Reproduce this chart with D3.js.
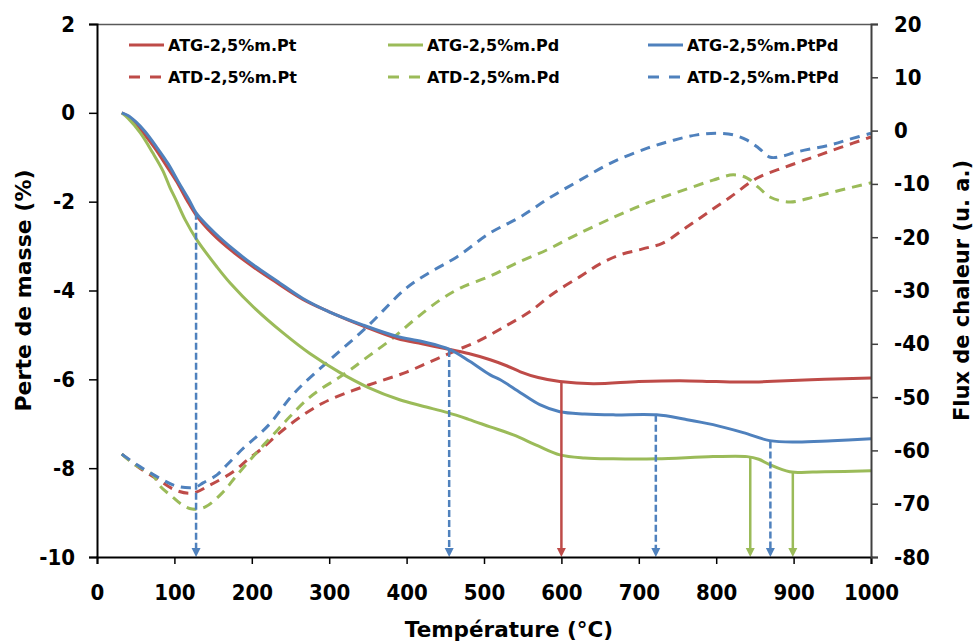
<!DOCTYPE html>
<html><head><meta charset="utf-8">
<script src="https://cdn.jsdelivr.net/npm/d3@7"></script>
<style>
body{margin:0;background:#fff;}
text{font-family:"DejaVu Sans",Verdana,sans-serif;font-weight:bold;fill:#000;}
</style></head>
<body>
<svg id="c" width="977" height="641"></svg>
<script>
// ---- data ----
const xTicks = [0,100,200,300,400,500,600,700,800,900,1000];
const yLeftTicks = [2,0,-2,-4,-6,-8,-10];
const yRightTicks = [20,10,0,-10,-20,-30,-40,-50,-60,-70,-80];

const atgPt = [[32,0],[40,-0.08],[50,-0.25],[62,-0.5],[75,-0.8],[90,-1.2],[103,-1.55],[116,-1.96],[128,-2.3],[149,-2.72],[175,-3.12],[202,-3.47],[230,-3.8],[266,-4.2],[300,-4.48],[344,-4.8],[388,-5.08],[420,-5.2],[456,-5.33],[480,-5.42],[508,-5.56],[530,-5.7],[547,-5.83],[570,-5.96],[598,-6.05],[641,-6.1],[700,-6.05],[753,-6.03],[800,-6.05],[840,-6.06],[882,-6.04],[940,-6.0],[1000,-5.97]];
const atgPd = [[32,0],[40,-0.12],[56,-0.45],[72,-0.9],[85,-1.3],[94,-1.67],[102,-1.96],[114,-2.41],[129,-2.86],[155,-3.47],[172,-3.83],[205,-4.42],[240,-4.95],[275,-5.42],[314,-5.85],[350,-6.18],[391,-6.46],[420,-6.6],[453,-6.75],[480,-6.9],[508,-7.07],[538,-7.25],[570,-7.5],[598,-7.70],[630,-7.77],[667,-7.79],[723,-7.79],[796,-7.74],[840,-7.74],[855,-7.8],[869,-7.92],[895,-8.08],[940,-8.08],[1000,-8.06]];
const atgPtPd = [[32,0],[40,-0.06],[50,-0.2],[62,-0.42],[77,-0.77],[92,-1.15],[105,-1.55],[119,-1.96],[128,-2.25],[152,-2.70],[178,-3.1],[204,-3.45],[232,-3.78],[266,-4.18],[300,-4.48],[344,-4.78],[387,-5.03],[420,-5.15],[456,-5.33],[482,-5.6],[508,-5.9],[521,-6.01],[547,-6.3],[572,-6.57],[598,-6.73],[630,-6.78],[667,-6.80],[723,-6.80],[760,-6.9],[796,-7.02],[835,-7.2],[869,-7.38],[904,-7.41],[950,-7.38],[1000,-7.34]];

const atdPt = [[32,-60.7],[55,-63.3],[79,-65.5],[102,-67.5],[124,-68.0],[146,-66.5],[176,-64.0],[194,-61.8],[211,-59.9],[236,-56.7],[262,-53.8],[292,-51.1],[330,-48.8],[366,-47.0],[400,-45.3],[430,-43.4],[460,-41.5],[495,-39.3],[530,-36.5],[559,-34.0],[590,-30.5],[624,-27.4],[650,-25.0],[676,-23.3],[705,-22.2],[731,-21.1],[762,-18.1],[788,-15.5],[818,-12.5],[853,-8.9],[890,-6.8],[925,-5.0],[960,-3.2],[1000,-1.2]];
const atdPd = [[32,-60.7],[50,-62.8],[72,-64.6],[81,-66.6],[98,-68.8],[110,-70.2],[123,-71.0],[140,-70.6],[163,-67.8],[181,-64.6],[207,-60.3],[233,-56.2],[249,-53.7],[271,-50.5],[290,-48.4],[310,-46.6],[327,-44.9],[350,-42.4],[379,-39.3],[410,-35.5],[443,-31.8],[470,-29.5],[508,-27.3],[540,-25.0],[581,-22.4],[620,-19.5],[667,-16.3],[700,-14.2],[731,-12.5],[765,-10.8],[796,-9.3],[822,-8.3],[840,-8.9],[855,-10.7],[870,-12.5],[895,-13.4],[925,-12.5],[960,-11.2],[1000,-9.8]];
const atdPtPd = [[32,-60.7],[55,-63.0],[81,-65.2],[103,-66.7],[127,-66.9],[137,-66.1],[155,-64.6],[168,-62.7],[189,-59.6],[207,-57.3],[224,-54.9],[249,-50.2],[266,-47.6],[301,-43.0],[349,-36.8],[400,-29.5],[430,-26.6],[465,-23.7],[508,-19.2],[547,-16.2],[585,-12.6],[624,-9.3],[665,-6.0],[711,-3.3],[745,-1.8],[775,-0.8],[800,-0.5],[822,-0.8],[840,-1.8],[855,-3.3],[870,-5.0],[885,-4.8],[904,-4.0],[947,-2.7],[975,-1.5],[1000,-0.5]];

const seriesNames = ["ATG-2,5%m.Pt","ATG-2,5%m.Pd","ATG-2,5%m.PtPd","ATD-2,5%m.Pt","ATD-2,5%m.Pd","ATD-2,5%m.PtPd"];
const arrowTemps = [128,455,600,722,844,870,899];
const arrowMass  = [-2.25,-5.34,-6.06,-6.80,-7.76,-7.40,-8.1];
const arrowSeries = ["PtPd","PtPd","Pt","PtPd","Pd","PtPd","Pd"];

// ---- styling ----
const colors = {Pt:"#BE4B48", Pd:"#9BBB59", PtPd:"#4F81BD"};
const tickFont = '"DejaVu Sans Condensed","DejaVu Sans",Verdana,sans-serif';
const m = {l:97, r:871, t:24, b:557};

const svg = d3.select("#c");
const x = d3.scaleLinear().domain([0,1000]).range([m.l,m.r]);
const yL = d3.scaleLinear().domain([-10,2]).range([m.b,m.t]);
const yR = d3.scaleLinear().domain([-80,20]).range([m.b,m.t]);

// frame top
svg.append("line").attr("x1",m.l).attr("x2",m.r).attr("y1",m.t+0.5).attr("y2",m.t+0.5).attr("stroke","#595959").attr("stroke-width",1.5);

const lineL = d3.line().x(d=>x(d[0])).y(d=>yL(d[1])).curve(d3.curveCatmullRom.alpha(0.5));
const lineR = d3.line().x(d=>x(d[0])).y(d=>yR(d[1])).curve(d3.curveCatmullRom.alpha(0.5));

const atd = [[atdPt,"Pt"],[atdPd,"Pd"],[atdPtPd,"PtPd"]];
const atg = [[atgPt,"Pt"],[atgPd,"Pd"],[atgPtPd,"PtPd"]];

atd.forEach(([d,k])=>{
  svg.append("path").attr("d",lineR(d)).attr("fill","none").attr("stroke",colors[k])
    .attr("stroke-width",3).attr("stroke-dasharray","10,7");
});
atg.forEach(([d,k])=>{
  svg.append("path").attr("d",lineL(d)).attr("fill","none").attr("stroke",colors[k])
    .attr("stroke-width",3);
});

// arrows
arrowTemps.forEach((t,i)=>{
  const k = arrowSeries[i];
  const dashed = (k==="PtPd");
  const xx = x(t), y0 = yL(arrowMass[i]), y1 = m.b;
  svg.append("line").attr("x1",xx).attr("x2",xx).attr("y1",y0).attr("y2",y1-7)
    .attr("stroke",colors[k]).attr("stroke-width",2.5)
    .attr("stroke-dasharray",dashed?"7,3":null);
  svg.append("path").attr("d",`M${xx-4.5},${y1-9}L${xx+4.5},${y1-9}L${xx},${y1}Z`).attr("fill",colors[k]);
});

// axes
const axB = svg.append("g").attr("transform",`translate(0,${m.b})`)
  .call(d3.axisBottom(x).tickValues(xTicks).tickSize(7).tickPadding(20).tickFormat(d3.format("d")));
const axL = svg.append("g").attr("transform",`translate(${m.l},0)`)
  .call(d3.axisLeft(yL).tickValues(yLeftTicks).tickSize(8).tickPadding(14).tickFormat(d3.format("d")));
const axR = svg.append("g").attr("transform",`translate(${m.r},0)`)
  .call(d3.axisRight(yR).tickValues(yRightTicks).tickSize(7).tickPadding(16).tickFormat(d3.format("d")));
[axB,axL,axR].forEach(a=>{
  a.selectAll("text").style("font-size","22px").style("font-family",tickFont).style("font-weight","bold").attr("fill","#000");
  a.select(".domain").attr("stroke-width",2);
  a.selectAll(".tick line").attr("stroke-width",1.5);
});
axL.selectAll("text").text(d=>d<0?"-"+Math.abs(d):d);
axR.selectAll("text").text(d=>d<0?"-"+Math.abs(d):d);
axR.select(".domain").attr("stroke","#404040");
axR.selectAll(".tick line").attr("stroke","#404040");

// titles
svg.append("text").attr("x",509).attr("y",637).attr("text-anchor","middle").style("font-size","21.5px").text("Température (°C)");
svg.append("text").attr("transform",`translate(31,${(m.t+m.b)/2}) rotate(-90)`).attr("text-anchor","middle").style("font-size","22px").text("Perte de masse (%)");
svg.append("text").attr("transform",`translate(969,${(m.t+m.b)/2}) rotate(-90)`).attr("text-anchor","middle").style("font-size","21px").text("Flux de chaleur (u. a.)");

// legend
const legCols = [129,388,648];
const legRows = [45,77];
const legKeys = ["Pt","Pd","PtPd"];
seriesNames.forEach((name,i)=>{
  const row = Math.floor(i/3), col = i%3;
  const lx = legCols[col], ly = legRows[row];
  svg.append("line").attr("x1",lx).attr("x2",lx+35).attr("y1",ly).attr("y2",ly)
    .attr("stroke",colors[legKeys[col]]).attr("stroke-width",3)
    .attr("stroke-dasharray",row===1?"11,10":null);
  svg.append("text").attr("x",lx+39).attr("y",ly+6).style("font-size","16px").text(name);
});
</script>
</body></html>
